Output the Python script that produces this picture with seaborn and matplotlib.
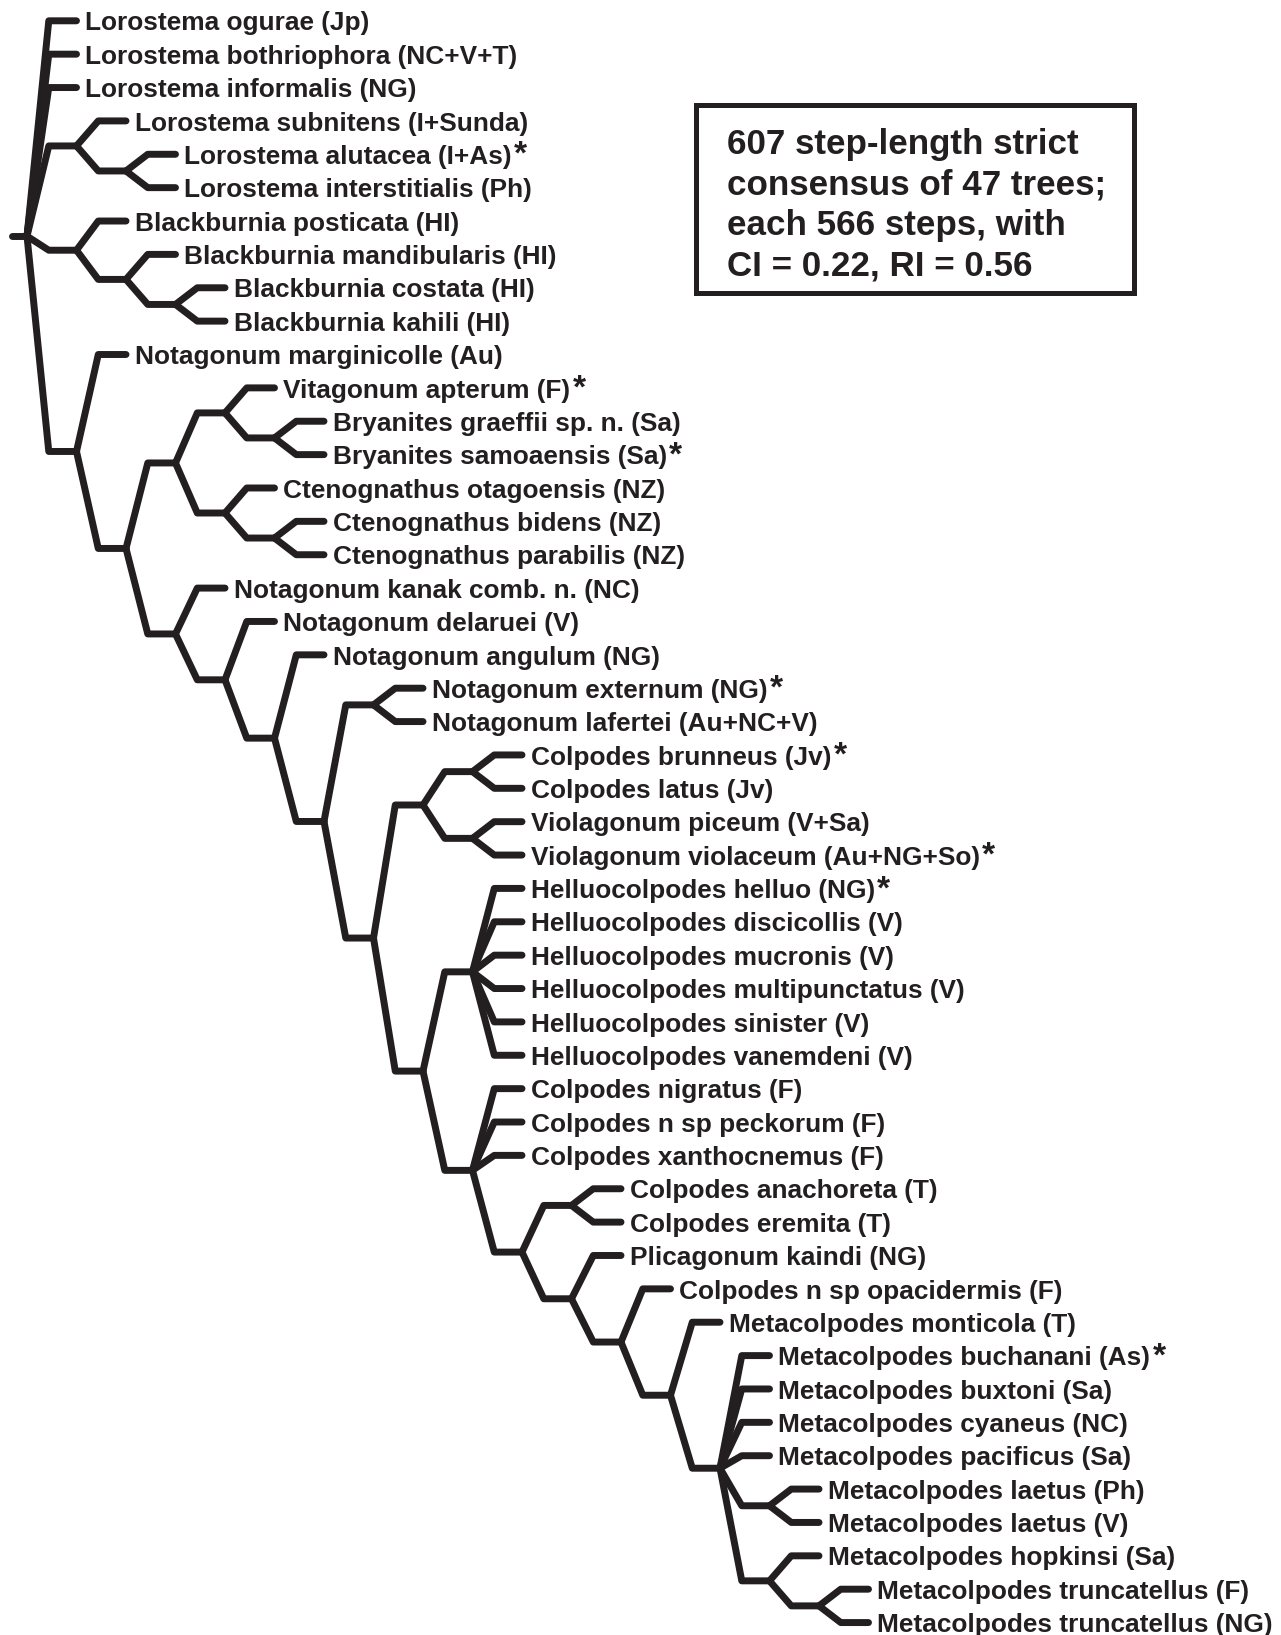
import matplotlib
matplotlib.use('Agg')
import matplotlib.pyplot as plt
from matplotlib.patches import Rectangle
import pandas as pd
import seaborn as sns

# tip taxa, top to bottom
taxa = ['Lorostema ogurae (Jp)', 'Lorostema bothriophora (NC+V+T)', 'Lorostema informalis (NG)',
        'Lorostema subnitens (I+Sunda)', 'Lorostema alutacea (I+As)', 'Lorostema interstitialis (Ph)',
        'Blackburnia posticata (HI)', 'Blackburnia mandibularis (HI)', 'Blackburnia costata (HI)',
        'Blackburnia kahili (HI)', 'Notagonum marginicolle (Au)', 'Vitagonum apterum (F)',
        'Bryanites graeffii sp. n. (Sa)', 'Bryanites samoaensis (Sa)', 'Ctenognathus otagoensis (NZ)',
        'Ctenognathus bidens (NZ)', 'Ctenognathus parabilis (NZ)', 'Notagonum kanak comb. n. (NC)',
        'Notagonum delaruei (V)', 'Notagonum angulum (NG)', 'Notagonum externum (NG)',
        'Notagonum lafertei (Au+NC+V)', 'Colpodes brunneus (Jv)', 'Colpodes latus (Jv)',
        'Violagonum piceum (V+Sa)', 'Violagonum violaceum (Au+NG+So)', 'Helluocolpodes helluo (NG)',
        'Helluocolpodes discicollis (V)', 'Helluocolpodes mucronis (V)', 'Helluocolpodes multipunctatus (V)',
        'Helluocolpodes sinister (V)', 'Helluocolpodes vanemdeni (V)', 'Colpodes nigratus (F)',
        'Colpodes n sp peckorum (F)', 'Colpodes xanthocnemus (F)', 'Colpodes anachoreta (T)',
        'Colpodes eremita (T)', 'Plicagonum kaindi (NG)', 'Colpodes n sp opacidermis (F)',
        'Metacolpodes monticola (T)', 'Metacolpodes buchanani (As)', 'Metacolpodes buxtoni (Sa)',
        'Metacolpodes cyaneus (NC)', 'Metacolpodes pacificus (Sa)', 'Metacolpodes laetus (Ph)',
        'Metacolpodes laetus (V)', 'Metacolpodes hopkinsi (Sa)', 'Metacolpodes truncatellus (F)',
        'Metacolpodes truncatellus (NG)']

starred = ['Lorostema alutacea (I+As)', 'Vitagonum apterum (F)', 'Bryanites samoaensis (Sa)',
           'Notagonum externum (NG)', 'Colpodes brunneus (Jv)', 'Violagonum violaceum (Au+NG+So)',
           'Helluocolpodes helluo (NG)', 'Metacolpodes buchanani (As)']

tip_parent = (['root'] * 3 + ['A'] + ['A2'] * 2 + ['B'] + ['B2'] + ['B3'] * 2 + ['C'] + ['C5']
              + ['C5b'] * 2 + ['C6'] + ['C6b'] * 2 + ['C4'] + ['C7'] + ['C8'] + ['C10'] * 2
              + ['C14'] * 2 + ['C15'] * 2 + ['H'] * 6 + ['C16'] * 3 + ['C18'] * 2 + ['C19']
              + ['C20'] + ['C21'] + ['C22'] * 4 + ['C23'] * 2 + ['C24'] + ['C25'] * 2)

# internal nodes of the consensus tree
node_names = ['root', 'A', 'A2', 'B', 'B2', 'B3', 'C', 'C2', 'C3', 'C5', 'C5b', 'C6', 'C6b',
              'C4', 'C7', 'C8', 'C9', 'C10', 'C11', 'C12', 'C14', 'C15', 'C13', 'H', 'C16',
              'C17', 'C18', 'C19', 'C20', 'C21', 'C22', 'C23', 'C24', 'C25']
node_parent = [None, 'root', 'A', 'root', 'B', 'B2', 'root', 'C', 'C2', 'C3', 'C5', 'C3', 'C6',
               'C2', 'C4', 'C7', 'C8', 'C9', 'C9', 'C11', 'C12', 'C12', 'C11', 'C13', 'C13',
               'C16', 'C17', 'C17', 'C19', 'C20', 'C21', 'C22', 'C22', 'C24']

box_lines = ['607 step-length strict', 'consensus of 47 trees;',
             'each 566 steps, with', 'CI = 0.22, RI = 0.56']

sns.set_theme(style='white')
plt.rcParams['font.family'] = ['Liberation Sans', 'DejaVu Sans']

INK = '#231f20'
STUB = 0.56

parent = dict(zip(node_names, node_parent))
depth = {}


def get_depth(n):
    if n not in depth:
        depth[n] = 0 if parent[n] is None else get_depth(parent[n]) + 1
    return depth[n]


for n in node_names:
    get_depth(n)

# y position: tips evenly spaced, nodes midway between outer children
ys = {}
children = {n: [] for n in node_names}
for i, p in enumerate(tip_parent):
    children[p].append(('tip', i))
    ys[('tip', i)] = i
for n, p in zip(node_names, node_parent):
    if p is not None:
        children[p].append(('node', n))
for n in sorted(node_names, key=lambda k: -depth[k]):
    cy = [ys[c] for c in children[n]]
    ys[('node', n)] = (min(cy) + max(cy)) / 2


def xpos(key):
    return depth[key[1]] if key[0] == 'node' else depth[tip_parent[key[1]]] + 1


rows = []
seg = 0
for n in node_names:
    px, py = depth[n], ys[('node', n)]
    for c in children[n]:
        cx, cy = xpos(c), ys[c]
        for x, y in [(px, py), (cx - STUB, cy), (cx, cy)]:
            rows.append({'seg': seg, 'x': x, 'y': y})
        seg += 1
ry = ys[('node', 'root')]
for x in (-0.3, 0):
    rows.append({'seg': seg, 'x': x, 'y': ry})
df = pd.DataFrame(rows)

fig = plt.figure(figsize=(12.81, 16.35), dpi=100)
ax = fig.add_axes([0, 0, 1, 1])
sns.lineplot(data=df, x='x', y='y', units='seg', estimator=None, sort=False,
             color=INK, linewidth=5, solid_capstyle='round', solid_joinstyle='round',
             legend=False, ax=ax)

for i, name in enumerate(taxa):
    t = ax.text(xpos(('tip', i)) + 0.18, i + 0.29, name, fontsize=18.9, fontweight='bold',
                color=INK, ha='left', va='baseline')
    if name in starred:
        ax.annotate('*', xy=(1, 0), xycoords=t, xytext=(1.5, -1.5), textcoords='offset points',
                    fontsize=24, fontweight='bold', color=INK, ha='left', va='bottom')

ax.set_xlim(-27 / 49.5, (1281 - 27) / 49.5)
ax.set_ylim((1635 - 20.8) / 33.37, -20.8 / 33.37)
ax.axis('off')

ax.add_patch(Rectangle((696 / 1281, 1 - 293 / 1635), 438 / 1281, 188 / 1635,
                       transform=ax.transAxes, fill=False, edgecolor=INK, linewidth=3.6))
for k, line in enumerate(box_lines):
    ax.text(727 / 1281, 1 - (154 + 40.6 * k) / 1635, line, transform=ax.transAxes,
            fontsize=25.2, fontweight='bold', color=INK, ha='left', va='baseline')

fig.savefig('out.png', dpi=100, facecolor='white')
